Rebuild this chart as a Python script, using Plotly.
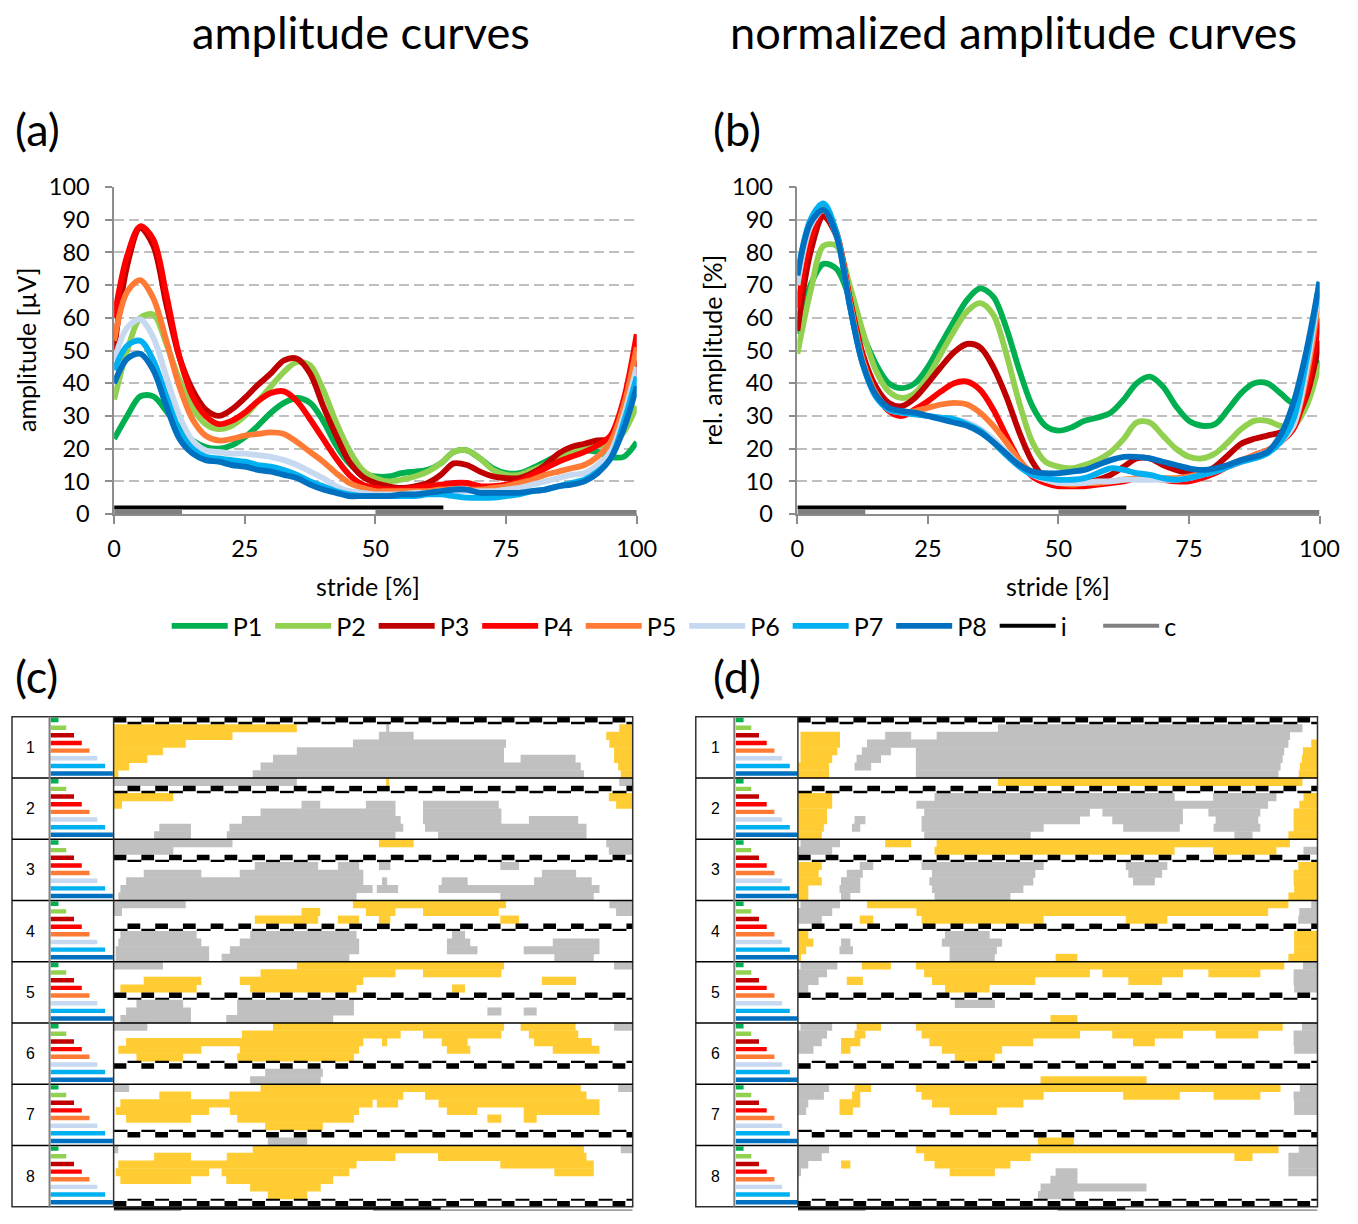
import plotly.graph_objects as go

W, H = 1358, 1224
# the photographed page shows the paper slightly scaled/offset; place items in picture coordinates
SX, SY, OX, OY = 0.979, 0.977, 7.0, 15.0
S = (SX + SY) / 2
def px(x): return (x - OX) / SX / W
def py(y): return 1 - (y - OY) / SY / H
def fs(v): return v / S

FONT = "Lato"

# ---------------- data ----------------
STRIDE = [0, 2.5, 5, 7.5, 10, 12.5, 15, 17.5, 20, 22.5, 25, 27.5, 30, 32.5, 35, 37.5, 40,
          42.5, 45, 47.5, 50, 52.5, 55, 57.5, 60, 62.5, 65, 67.5, 70, 72.5, 75, 77.5, 80,
          82.5, 85, 87.5, 90, 92.5, 95, 97.5, 100]

NAMES = ["P1", "P2", "P3", "P4", "P5", "P6", "P7", "P8"]
COLORS = ["#00B050", "#92D050", "#C00000", "#FF0000", "#FF7B35", "#C6D9F0", "#00B0F0", "#0070C0"]

# amplitude curves [µV]
AMP_P1 = [23, 30, 36, 36, 31.5, 26.5, 22.5, 20.5, 20, 21, 23.5, 27, 31, 34, 35.5, 34, 28.5, 21, 15.5, 12.5,
          11.5, 11.5, 12.5, 13, 13.5, 15.5, 19, 19.5, 17, 14, 12.5, 12.5, 14, 16, 18, 19, 19.5, 19, 17.5, 17.5, 22]
AMP_P2 = [35, 50, 60, 61, 52, 41, 32.5, 27.5, 26, 27, 30, 34.5, 39, 43.5, 46.5, 45.5, 38, 28, 19.5, 13.5,
          11, 10, 10.5, 11.5, 13, 15.5, 19, 19.5, 17, 13.5, 12, 12, 13.5, 15, 17, 19, 20.5, 21, 21, 25, 33]
AMP_P3 = [50, 76, 87.5, 82, 64, 48, 38, 32, 30, 32, 35.5, 39.5, 43, 47, 47.5, 43, 33, 24, 16, 11.5,
          9.5, 8.5, 8, 8.5, 9.5, 12, 15.5, 15, 13, 11.5, 11, 11, 12.5, 15, 18.5, 20.5, 21.5, 22.5, 23, 30, 47]
AMP_P4 = [60, 79, 88, 84, 67, 48, 36, 30, 27.5, 28.5, 31, 34.5, 37, 37.5, 34.5, 29, 23, 17, 12, 9,
          8, 7.5, 7.5, 8, 8.5, 9, 9.5, 9.5, 8.5, 8.5, 9, 10, 12, 14, 16, 17.5, 19, 21, 24, 35, 55]
AMP_P5 = [53, 68, 71.5, 66, 53, 39, 29, 24, 22.5, 23, 24, 24.5, 25, 24.5, 22, 19, 16, 12.5, 9.5, 8,
          7, 7, 7, 7, 7, 7.5, 7.5, 7.5, 7.5, 8, 8.5, 9.5, 10.5, 12, 13, 14, 15, 17.5, 22, 33, 51]
AMP_P6 = [47, 57, 59.5, 54, 42, 30, 22.5, 19.5, 19, 18.5, 18.5, 18, 17.5, 16.5, 15, 13, 11, 8.5, 7, 6.5,
          6, 6, 6, 6.5, 6.5, 7, 7, 7, 7, 7, 7.5, 8, 9, 10, 11, 12, 12.5, 15, 19, 30, 45]
AMP_P7 = [44, 51.5, 53, 47, 36, 25.5, 20, 17.5, 17, 16.5, 16, 15, 14.5, 13.5, 12, 10, 8.5, 7, 6, 5.5,
          5.5, 5.5, 5.5, 5.5, 6, 6, 5.5, 5, 5, 5, 5.5, 6, 7, 7.5, 8.5, 9.5, 10.5, 13, 17, 28, 42]
AMP_P8 = [40, 47.5, 49, 44, 33, 23, 18.5, 16.5, 16, 15, 14.5, 13.5, 13, 12, 11, 9, 7.5, 6.5, 5.5, 5.5,
          5.5, 5.5, 6, 6, 6.5, 7, 7.5, 7.5, 6.5, 6.5, 6.5, 6.5, 7, 7.5, 8.5, 9, 10, 12.5, 17, 26, 39]

# normalized amplitude curves [%]
REL_P1 = [55, 70, 76.5, 75, 66, 55, 46, 40, 38.5, 40, 45, 52, 59, 65.5, 69, 66.5, 57, 44, 33, 27,
          25.5, 26.5, 28.5, 29.5, 31, 35, 40, 42, 39, 33, 28.5, 27, 27.5, 32, 37, 40, 40, 37, 34, 38, 47]
REL_P2 = [49, 68, 82, 82, 70, 56, 44, 37.5, 35.5, 37, 42, 49, 56, 62, 64.5, 61, 49, 34, 22, 16,
          14.5, 14, 15, 16.5, 19, 23, 28, 28, 24, 20, 17.5, 17, 18.5, 22, 26, 28.5, 28.5, 27, 27, 33, 46]
REL_P3 = [56, 80, 91, 85, 66, 49, 39, 34, 33, 35.5, 40, 45, 49.5, 52, 51, 45, 36, 25, 16, 11,
          9.5, 9, 9.5, 10.5, 12, 14.5, 17, 17, 15, 13.5, 12.5, 12.5, 14.5, 18, 21.5, 23, 24, 25, 28, 36, 53]
REL_P4 = [63, 84, 93, 86, 66, 48, 37, 31.5, 30, 32, 34.5, 37.5, 40, 40.5, 38, 32, 24, 16.5, 11.5, 9.5,
          8.5, 8.5, 8.5, 9, 9.5, 10, 11, 11, 10.5, 10, 10, 11, 12.5, 14.5, 16, 18, 19.5, 22, 26, 38, 60]
REL_P5 = [70, 88, 94, 86, 65, 47, 37, 32, 31, 31.5, 32.5, 33.5, 34, 33.5, 31, 27, 22, 16.5, 12.5, 10.5,
          9.5, 9, 9.5, 9.5, 10, 10.5, 11, 11, 11, 11, 11.5, 12.5, 13.5, 15, 16.5, 18, 19.5, 22, 27, 42, 67]
REL_P6 = [70, 88, 93, 85, 64, 46, 36, 32, 31, 30.5, 30, 29.5, 29, 28, 26, 23, 19, 15, 12, 10.5,
          9.5, 9.5, 9.5, 10, 10, 10.5, 10.5, 10.5, 10.5, 10.5, 11, 12, 13, 14.5, 16, 17.5, 19, 22, 27, 44, 70]
REL_P7 = [73, 90, 95, 86, 64, 46, 36, 32, 31, 30.5, 30, 29.5, 29, 27.5, 25.5, 22, 18, 14.5, 12, 11,
          10.5, 10.5, 11, 12.5, 14, 13.5, 12.5, 12, 11, 10.5, 11, 12, 13, 14.5, 16, 17, 18.5, 22, 29, 47, 71]
REL_P8 = [73, 89, 93, 85, 64, 46, 36.5, 32.5, 31.5, 31, 30, 29, 28, 27, 25, 22, 18.5, 15, 13, 12.5,
          12.5, 13, 13.5, 15, 16.5, 17.5, 17.5, 17, 16, 15, 14, 13.5, 14, 15, 16.5, 17.5, 19, 24, 34, 50, 71]

AMP = [AMP_P1, AMP_P2, AMP_P3, AMP_P4, AMP_P5, AMP_P6, AMP_P7, AMP_P8]
REL = [REL_P1, REL_P2, REL_P3, REL_P4, REL_P5, REL_P6, REL_P7, REL_P8]

# stance phases (stride %): ipsilateral (i) and contralateral (c)
I_PHASE = [[0, 63]]
C_PHASE = [[0, 13], [50, 100]]
I_LEVEL, C_LEVEL = 2.0, 0.6

# participant order index for the small legend bars
ORDER_LEN = [1, 2, 3, 4, 5, 6, 7, 8]

# pairwise significance intervals (stride %), pair (k, j), k < j
# *_UP: yellow in block k / row j (gray in block j / row k); *_DOWN: the reverse
AMP_UP = {
    (1, 2): [[0, 35.3], [97.4, 100]], (1, 3): [[0, 22.9], [94.9, 100]], (1, 4): [[0, 13.9], [95.5, 100]],
    (1, 5): [[0, 9.5], [96.4, 100]], (1, 6): [[0, 6.5], [96.4, 100]], (1, 7): [[0, 3.0], [97.2, 100]],
    (1, 8): [[0, 0.9], [97.7, 100]], (2, 3): [[0, 11.5], [95.4, 100]], (2, 4): [[0, 1.6], [96.8, 100]],
}
AMP_DOWN = {
    (1, 2): [[52.5, 53.1]], (1, 3): [[51.1, 57.8]], (1, 4): [[46.1, 75.6]], (1, 5): [[35.3, 75.2]],
    (1, 6): [[30.7, 75.2], [78.4, 89.0]], (1, 7): [[28.3, 90.0]], (1, 8): [[26.8, 90.6]],
    (2, 4): [[36.2, 39.8], [48.6, 54.3], [59.6, 74.2]], (2, 5): [[28.3, 54.3], [59.6, 74.7]],
    (2, 6): [[24.7, 55.3], [59.6, 74.7], [80.0, 89.5]], (2, 7): [[8.8, 14.9], [22.3, 55.8], [60.0, 91.1]],
    (2, 8): [[7.8, 14.9], [21.8, 54.3], [62.5, 91.1]],
    (3, 4): [[27.2, 39.4], [43.2, 47.3], [51.1, 53.3], [74.5, 78.1]],
    (3, 5): [[5.8, 16.9], [24.3, 48.1], [82.5, 89.1]],
    (3, 6): [[2.4, 48.1], [51.7, 52.7], [63.2, 68.2], [81.0, 92.1]],
    (3, 7): [[1.3, 49.9], [50.7, 54.8], [62.6, 93.6]], (3, 8): [[0.9, 46.8], [74.5, 92.5]],
    (4, 5): [[1.3, 16.0], [26.3, 46.8], [65.2, 67.7]],
    (4, 6): [[0.9, 16.9], [24.3, 47.3], [64.2, 68.7], [84.6, 93.6]],
    (4, 7): [[0.4, 18.4], [22.4, 47.3], [64.2, 70.1], [79.0, 93.6]],
    (4, 8): [[0.4, 18.4], [20.8, 45.4], [84.9, 92.5]],
    (5, 6): [[4.4, 13.4], [23.8, 46.3]], (5, 7): [[2.4, 14.9], [23.8, 46.3], [72.0, 74.7], [79.0, 81.5]],
    (5, 8): [[1.3, 14.9], [21.7, 42.3]], (6, 7): [[29.2, 40.3]], (6, 8): [[26.3, 39.9]], (7, 8): [[29.7, 37.3]],
}
REL_UP = {
    (1, 3): [[0.5, 8.1]], (1, 4): [[0.5, 8.1], [98.8, 100]], (1, 5): [[0.5, 7.6], [97.2, 100]],
    (1, 6): [[0.5, 6.6], [97.0, 100]], (1, 7): [[0, 6.0], [96.6, 100]], (1, 8): [[0, 6.0], [96.4, 100]],
    (2, 3): [[0, 6.6], [97.3, 100]], (2, 4): [[0, 6.6], [96.5, 100]], (2, 5): [[0, 5.6], [95.4, 100]],
    (2, 6): [[0, 5.6], [95.4, 100]], (2, 7): [[0, 5.0], [95.4, 100]], (2, 8): [[0, 4.6], [94.4, 100]],
    (3, 4): [[0, 4.6], [96.3, 100]], (3, 5): [[0, 4.0], [95.4, 100]], (3, 6): [[0, 4.6], [95.4, 100]],
    (3, 7): [[0, 2.0], [95.5, 100]], (3, 8): [[0, 2.0], [94.4, 100]],
    (4, 5): [[0, 2.0], [95.5, 100]], (4, 6): [[0, 3.0], [95.5, 100]], (4, 7): [[0, 1.6], [95.5, 100]],
    (4, 8): [[0, 0.6], [49.6, 53.8], [94.4, 100]],
    (5, 8): [[48.6, 53.8]], (6, 8): [[46.7, 67.1]], (7, 8): [[46.2, 53.1]],
}
REL_DOWN = {
    (1, 2): [[38.5, 97.1]], (1, 3): [[16.8, 21.8], [26.7, 94.7]], (1, 4): [[13.3, 94.4]],
    (1, 5): [[12.3, 17.9], [22.7, 93.6]], (1, 6): [[11.3, 16.0], [22.7, 93.3]],
    (1, 7): [[10.9, 14.1], [22.7, 92.9]], (1, 8): [[22.7, 92.5]],
    (2, 3): [[26.3, 72.5], [79.9, 92.1]], (2, 4): [[22.8, 90.5]],
    (2, 5): [[24.3, 56.2], [58.6, 74.1], [79.0, 89.0]],
    (2, 6): [[10.9, 13.0], [23.8, 54.3], [60.5, 74.1], [80.4, 88.6]],
    (2, 7): [[10.4, 12.0], [23.8, 47.3], [62.6, 73.5], [80.0, 89.0]],
    (2, 8): [[24.3, 44.8], [84.0, 87.5]],
    (3, 4): [[11.9, 14.5], [23.8, 47.3], [63.1, 71.1]], (3, 5): [[9.4, 12.5], [25.8, 45.7], [63.6, 70.1]],
    (3, 6): [[8.3, 12.0], [25.3, 45.3], [64.5, 68.7]], (3, 7): [[8.0, 12.0], [25.8, 43.4]],
    (3, 8): [[8.3, 10.1], [26.3, 40.9]],
    (4, 5): [[28.3, 36.9]], (4, 6): [[8.3, 10.1], [27.7, 39.3]], (4, 7): [[8.0, 10.6], [29.2, 38.3]],
    (4, 8): [[29.2, 37.9]], (5, 6): [[30.2, 37.9]],
}

YELLOW = "#FFCC33"
GRAY = "#C0C0C0"

# diagonal (self) row marker styling
DASH_PERIOD = 5.34
DASH_SHIFT = [0, 1, 0, 1, 0, 0, 1, 0]
DASH_ON_TOP = [True, True, True, True, True, False, False, False]

fig = go.Figure()

# ---------------- panels (a) and (b) ----------------
for panel, series, xa, ya in (("a", AMP, "x", "y"), ("b", REL, "x2", "y2")):
    for name, color, vals in zip(NAMES, COLORS, series):
        fig.add_trace(go.Scatter(x=STRIDE, y=vals, mode="lines", name=name, legendgroup=name,
                                 showlegend=(panel == "a"), hoverinfo="skip",
                                 line=dict(color=color, width=fs(5.7), shape="spline", smoothing=0.9),
                                 xaxis=xa, yaxis=ya))
    ix, iy = [], []
    for a, b in I_PHASE:
        ix += [a, b, None]; iy += [I_LEVEL, I_LEVEL, None]
    cx, cy = [], []
    for a, b in C_PHASE:
        cx += [a, b, None]; cy += [C_LEVEL, C_LEVEL, None]
    fig.add_trace(go.Scatter(x=ix, y=iy, mode="lines", name="i", legendgroup="i", showlegend=(panel == "a"),
                             line=dict(color="black", width=4), hoverinfo="skip", xaxis=xa, yaxis=ya))
    fig.add_trace(go.Scatter(x=cx, y=cy, mode="lines", name="c", legendgroup="c", showlegend=(panel == "a"),
                             line=dict(color="#808080", width=4), hoverinfo="skip", xaxis=xa, yaxis=ya))


def add_hbars(rows, color, xa, ya):
    if not rows:
        return
    fig.add_trace(go.Bar(orientation="h", y=[r[0] for r in rows], base=[r[1] for r in rows],
                         x=[r[2] - r[1] for r in rows], width=[r[3] for r in rows],
                         marker=dict(color=color, line=dict(width=0)), showlegend=False,
                         hoverinfo="skip", xaxis=xa, yaxis=ya))


# ---------------- panels (c) and (d) ----------------
for up, down, xa, xm, ya, yb in ((AMP_UP, AMP_DOWN, "x3", "x4", "y3", "y5"),
                                 (REL_UP, REL_DOWN, "x6", "x7", "y3", "y6")):
    yel, gry, thick, thin, mini = [], [], [], [], {n: [] for n in NAMES}
    for k in range(1, 9):
        for j in range(1, 9):
            r = (k - 1) * 8 + (j - 1)
            mini[NAMES[j - 1]].append((r + 0.42, 0, ORDER_LEN[j - 1], 0.58))
            if k == j:
                h = DASH_PERIOD / 2
                start = DASH_SHIFT[k - 1] * h - DASH_PERIOD
                top = DASH_ON_TOP[k - 1]
                while start < 100:
                    a, b = max(start, 0), min(start + h * 0.92, 100)
                    if b > a:
                        thick.append((r + (0.38 if top else 0.62), a, b, 0.72))
                    a, b = max(start + h, 0), min(start + 2 * h, 100)
                    if b > a:
                        thin.append((r + (0.87 if top else 0.13), a, b, 0.22))
                    start += DASH_PERIOD
                continue
            if k < j:
                ylw, gy = up.get((k, j), []), down.get((k, j), [])
            else:
                ylw, gy = down.get((j, k), []), up.get((j, k), [])
            for a, b in ylw:
                yel.append((r + 0.5, a, b, 1.06))
            for a, b in gy:
                gry.append((r + 0.5, a, b, 1.06))
    add_hbars(gry, GRAY, xa, ya)
    add_hbars(yel, YELLOW, xa, ya)
    add_hbars(thick, "black", xa, ya)
    add_hbars(thin, "black", xa, ya)
    for name, color in zip(NAMES, COLORS):
        add_hbars(mini[name], color, xm, ya)
    # stance phase bars below the grid
    ix, iy = [], []
    for a, b in I_PHASE:
        ix += [a, b, None]; iy += [0.6, 0.6, None]
    cx, cy = [], []
    for a, b in C_PHASE:
        cx += [a, b, None]; cy += [0.1, 0.1, None]
    fig.add_trace(go.Scatter(x=cx, y=cy, mode="lines", line=dict(color="#A0A0A0", width=2.5),
                             showlegend=False, hoverinfo="skip", xaxis=xa, yaxis=yb))
    fig.add_trace(go.Scatter(x=ix, y=iy, mode="lines", line=dict(color="black", width=3.5),
                             showlegend=False, hoverinfo="skip", xaxis=xa, yaxis=yb))

# ---------------- layout ----------------
tick_font = dict(family=FONT, size=fs(23), color="black")
line_axis = dict(range=[0, 100], tickvals=[0, 25, 50, 75, 100], ticks="outside", ticklen=8, tickwidth=1.5,
                 tickcolor="#8C8C8C", showline=True, linecolor="#8C8C8C", linewidth=1.5, showgrid=False,
                 zeroline=False, tickfont=tick_font, ticklabelstandoff=5)
val_axis = dict(range=[0, 100], tickvals=list(range(0, 101, 10)), ticks="outside", ticklen=7, tickwidth=1.5,
                tickcolor="#8C8C8C", showline=True, linecolor="#8C8C8C", linewidth=1.5, showgrid=True,
                gridcolor="#BFBFBF", gridwidth=1.5, griddash="10px,5px", zeroline=False, tickfont=tick_font,
                ticklabelstandoff=11)

GRID_TOP, GRID_BOT = 716.7, 1206.5
grid_y = [py(GRID_BOT), py(GRID_TOP)]
hidden = dict(visible=False, fixedrange=True)

fig.update_layout(
    width=W, height=H, margin=dict(l=0, r=0, t=0, b=0, pad=0), autosize=False,
    paper_bgcolor="white", plot_bgcolor="rgba(0,0,0,0)",
    barmode="overlay", font=dict(family=FONT, color="black"),
    xaxis=dict(domain=[px(114), px(636)], anchor="y", **line_axis),
    yaxis=dict(domain=[py(514), py(187)], anchor="x", **val_axis),
    xaxis2=dict(domain=[px(796.5), px(1318)], anchor="y2", **line_axis),
    yaxis2=dict(domain=[py(514), py(187)], anchor="x2", **val_axis),
    xaxis3=dict(domain=[px(113.5), px(632)], range=[0, 100], anchor="y3", **hidden),
    xaxis4=dict(domain=[px(49.5), px(113.5)], range=[-0.15, 8.1], anchor="y3", **hidden),
    xaxis6=dict(domain=[px(797), px(1316)], range=[0, 100], anchor="y3", **hidden),
    xaxis7=dict(domain=[px(733.5), px(797)], range=[-0.2, 8.05], anchor="y3", **hidden),
    yaxis3=dict(domain=grid_y, range=[64, 0], anchor="x3", **hidden),
    yaxis5=dict(domain=[0, 5 / H], range=[0, 1], anchor="x3", **hidden),
    yaxis6=dict(domain=[0, 5 / H], range=[0, 1], anchor="x6", **hidden),
    legend=dict(orientation="h", x=px(166.5), xanchor="left", y=py(626), yanchor="middle",
                font=dict(family=FONT, size=fs(24.5), color="black"), bgcolor="rgba(0,0,0,0)",
                entrywidth=32.5, entrywidthmode="pixels", itemwidth=56, tracegroupgap=0,
                borderwidth=0),
)

ann = []
def text(x, y, s, size, **kw):
    ann.append(dict(x=px(x), y=py(y), xref="paper", yref="paper", text=s, showarrow=False,
                    xanchor="center", yanchor="middle",
                    font=dict(family=FONT, size=fs(size), color="black"), **kw))

text(360.5, 31, "amplitude curves", 44.2)
text(1012.5, 31, "normalized amplitude curves", 44.2)
for s, x, y in (("(a)", 37, 129), ("(b)", 736, 129), ("(c)", 36, 676), ("(d)", 736, 676)):
    text(x, y, s, 44)
text(26, 350, "amplitude [µV]", 24.5, textangle=-90)
text(711, 350, "rel. amplitude [%]", 24.5, textangle=-90)
text(368, 586, "stride [%]", 24.5)
text(1057, 586, "stride [%]", 24.5)

shapes = []
for x0, xl, xb, x1 in ((12, 49.5, 113.5, 632), (695, 733.5, 797, 1316)):
    shapes.append(dict(type="rect", xref="paper", yref="paper", x0=px(x0), x1=px(x1), y0=py(GRID_BOT),
                       y1=py(GRID_TOP), line=dict(color="#303030", width=1.5)))
    for k in range(1, 8):
        shapes.append(dict(type="line", xref="paper", yref="y3", x0=px(x0), x1=px(x1), y0=8 * k, y1=8 * k,
                           line=dict(color="black", width=1.5)))
    shapes.append(dict(type="line", xref="paper", yref="paper", x0=px(xl), x1=px(xl), y0=py(GRID_BOT),
                       y1=py(GRID_TOP), line=dict(color="#7F7F7F", width=2)))
    shapes.append(dict(type="line", xref="paper", yref="paper", x0=px(xb), x1=px(xb), y0=py(GRID_BOT),
                       y1=py(GRID_TOP), line=dict(color="#303030", width=1.5)))
    for k in range(1, 9):
        ann.append(dict(x=px((x0 + xl) / 2), y=(k - 1) * 8 + 4, xref="paper", yref="y3", text=str(k),
                        showarrow=False, xanchor="center", yanchor="middle",
                        font=dict(family="Liberation Sans", size=fs(15.5), color="black")))

fig.update_layout(annotations=ann, shapes=shapes)
fig.write_html("out.html", config={"displayModeBar": False})
